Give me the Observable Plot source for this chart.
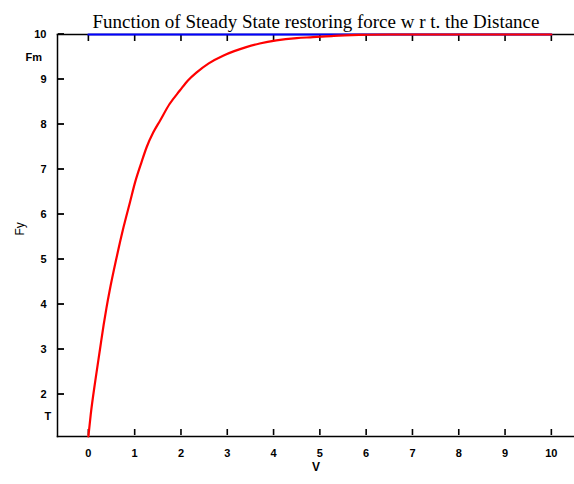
<!DOCTYPE html>
<html>
<head>
<meta charset="utf-8">
<script src="https://cdn.jsdelivr.net/npm/d3@7"></script>
<script src="https://cdn.jsdelivr.net/npm/@observablehq/plot@0.6"></script>
<style>
  html, body { margin: 0; padding: 0; background: #fff; }
  svg { display: block; }
</style>
</head>
<body>
<div id="chart"></div>
<script>
const title = "Function of Steady State restoring force w r t. the Distance";
const xLabel = "V";
const yLabel = "Fy";
const xTicks = [0, 1, 2, 3, 4, 5, 6, 7, 8, 9, 10];
const yTicks = [2, 3, 4, 5, 6, 7, 8, 9, 10];
// Steady-state restoring force curve (red)
const curveX = [0, 0.05, 0.15, 0.25, 0.33, 0.39, 0.46, 0.6, 0.76, 0.9, 1.01, 1.15, 1.26, 1.4, 1.55, 1.75, 1.98, 2.15, 2.34, 2.6, 2.91, 3.15, 3.41, 3.7, 4.06, 4.5, 4.85, 5.3, 5.85, 6.5, 7, 8, 9, 10];
const curveY = [1.07, 1.55, 2.31, 3.0, 3.55, 3.92, 4.31, 5.0, 5.72, 6.28, 6.72, 7.17, 7.5, 7.82, 8.09, 8.45, 8.76, 8.98, 9.16, 9.36, 9.53, 9.63, 9.72, 9.8, 9.87, 9.92, 9.94, 9.97, 9.99, 10, 10, 10, 10, 10];
// Fm level (blue)
const fmX = [0, 10];
const fmY = [10, 10];
// side annotations
const annFm = ["Fm"];
const annFmY = [9.49];
const annT = ["T"];
const annTY = [1.51];

const curve = curveX.map((x, i) => ({x, y: curveY[i]}));
const fm = fmX.map((x, i) => ({x, y: fmY[i]}));

const xDomain = [-0.667, 10.5];
const yDomain = [1.067, 10];

const W = 574, H = 484, mT = 34, mB = 48, mL = 57, mR = 0;
const innerW = W - mL - mR, innerH = H - mT - mB;
const tickLen = 6;
const txLen = tickLen * (xDomain[1] - xDomain[0]) / innerW;

const tickFont = "Liberation Sans, Arial, sans-serif";

const plot = Plot.plot({
  width: W,
  height: H,
  marginTop: mT,
  marginBottom: mB,
  marginLeft: mL,
  marginRight: mR,
  style: {fontFamily: tickFont, fontSize: "11px", fontWeight: "bold", color: "#000", background: "#fff"},
  x: {domain: xDomain},
  y: {domain: yDomain},
  marks: [
    Plot.axisX({anchor: "bottom", ticks: xTicks, tickSize: 0, tickPadding: 13, label: null}),
    Plot.axisY({anchor: "left", ticks: yTicks, tickSize: 0, tickPadding: 11, label: null}),
    Plot.frame({anchor: "left", stroke: "#000", strokeWidth: 1.5}),
    Plot.frame({anchor: "bottom", stroke: "#000", strokeWidth: 1.5}),
    Plot.frame({anchor: "top", stroke: "#000", strokeWidth: 1.5}),
    // inward tick marks (MATLAB style)
    Plot.tickX(xTicks, {x: (d) => d, frameAnchor: "bottom", dy: -1, insetTop: innerH - tickLen, stroke: "#000", strokeWidth: 1.6}),
    Plot.tickX(xTicks, {x: (d) => d, frameAnchor: "top", dy: 1, insetBottom: innerH - tickLen, stroke: "#000", strokeWidth: 1.6}),
    Plot.ruleY(yTicks, {y: (d) => d, x1: xDomain[0], x2: xDomain[0] + txLen, dx: 1, dy: -0.5, stroke: "#000", strokeWidth: 1.8}),
    Plot.line(fm, {x: "x", y: "y", stroke: "#0000ff", strokeWidth: 2}),
    Plot.line(curve, {x: "x", y: "y", stroke: "#ff0000", strokeWidth: 2.2, curve: "monotone-x"}),
    Plot.text(annFm, {y: annFmY, frameAnchor: "left", dx: -32, fontSize: 11, fontWeight: "bold"}),
    Plot.text(annT, {y: annTY, frameAnchor: "left", dx: -13, fontSize: 11, fontWeight: "bold"}),
    Plot.text([title], {frameAnchor: "top", dy: -20, fontFamily: "Liberation Serif, Times New Roman, serif", fontSize: 19, fontWeight: "normal"}),
    Plot.text([xLabel], {frameAnchor: "bottom", dy: 34, fontSize: 12, fontWeight: "bold"}),
    Plot.text([yLabel], {frameAnchor: "left", dx: -37, rotate: -90, fontSize: 12, fontWeight: "normal"})
  ]
});

document.getElementById("chart").appendChild(plot);
</script>
</body>
</html>
